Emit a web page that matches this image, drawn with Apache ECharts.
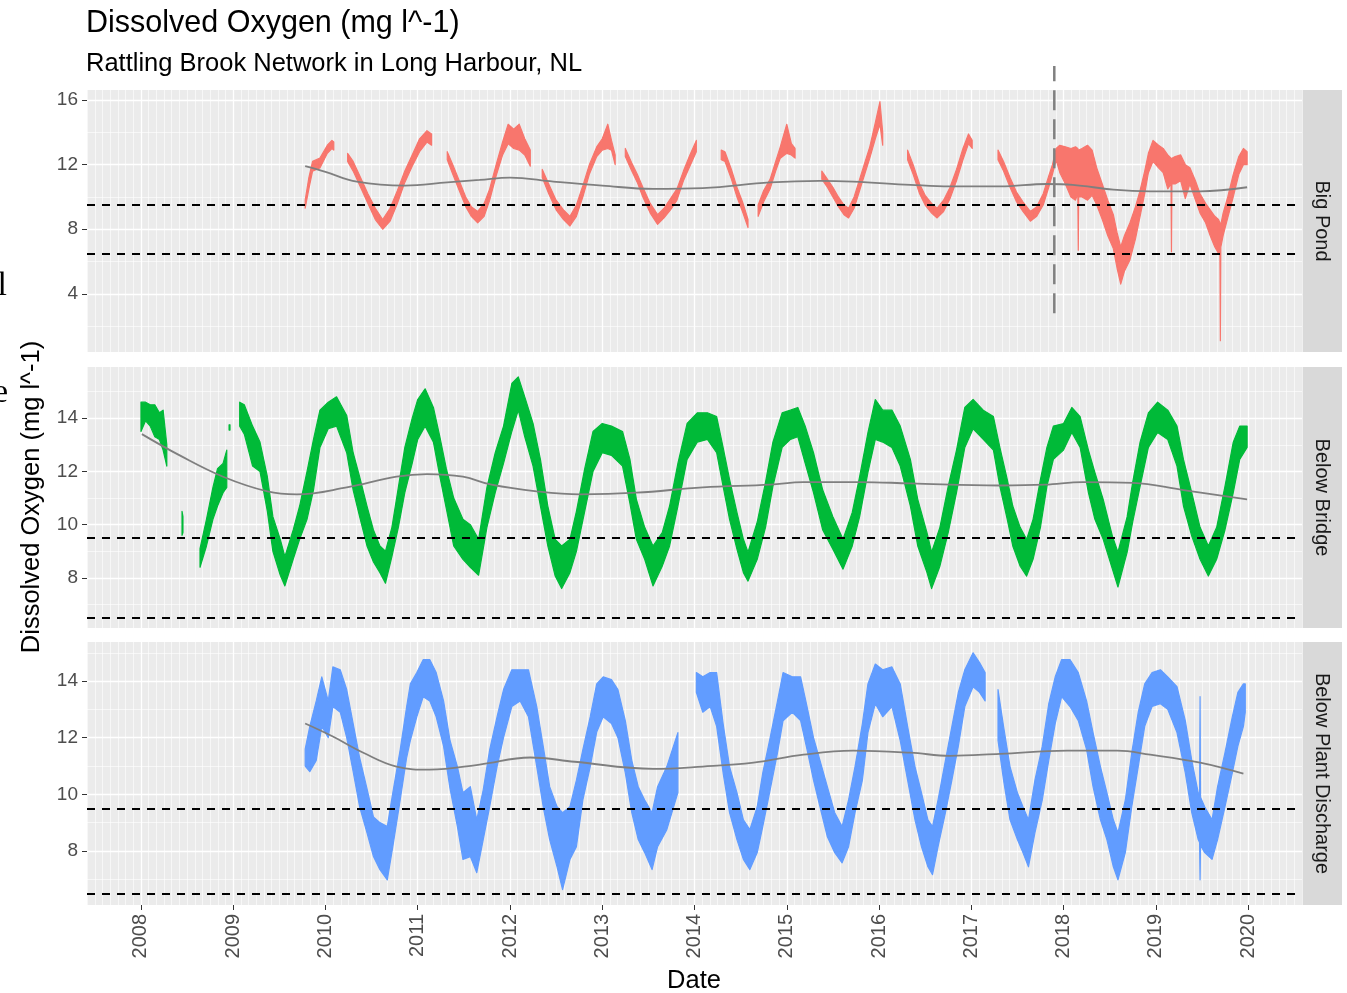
<!DOCTYPE html>
<html>
<head>
<meta charset="utf-8">
<title>Dissolved Oxygen</title>
<script src="https://cdn.jsdelivr.net/npm/echarts@6/dist/echarts.min.js"></script>
<style>
  html, body { margin: 0; padding: 0; background: #fff; }
  #chart { width: 1347px; height: 993px; }
</style>
</head>
<body>
<div id="chart"></div>
<script>
// each point: [decimal year, lower edge of trace, upper edge of trace]; null = gap in record
const bigPond = [
  [2009.78, 9.3, 9.8], [2009.82, 10.5, 11.2], [2009.86, 11.6, 12.2], [2009.94, 11.8, 12.4],
  [2010.02, 12.7, 13.2], [2010.07, 13.0, 13.5], [2010.09, 12.9, 13.4], [2010.16, null, null],
  [2010.24, 12.2, 12.7], [2010.30, 11.6, 12.2], [2010.38, 10.6, 11.2], [2010.46, 9.6, 10.2],
  [2010.54, 8.6, 9.3], [2010.62, 8.0, 8.6], [2010.70, 8.5, 9.3], [2010.78, 9.6, 10.4],
  [2010.86, 10.9, 11.6], [2010.94, 11.9, 12.6], [2011.02, 12.8, 13.6], [2011.10, 13.4, 14.1],
  [2011.15, 13.2, 13.9], [2011.24, null, null],
  [2011.32, 12.3, 12.8], [2011.38, 11.4, 12.0], [2011.45, 10.4, 11.0], [2011.52, 9.4, 10.0],
  [2011.58, 8.8, 9.4], [2011.65, 8.4, 9.1], [2011.72, 8.8, 9.6], [2011.78, 9.8, 10.5],
  [2011.85, 11.3, 12.0], [2011.92, 12.6, 13.4], [2011.98, 13.3, 14.5], [2012.04, 13.0, 14.2],
  [2012.10, 12.9, 14.5], [2012.16, 12.6, 13.6], [2012.22, 11.9, 12.9], [2012.29, null, null],
  [2012.35, 11.2, 11.7], [2012.42, 10.2, 10.8], [2012.50, 9.2, 9.8], [2012.58, 8.6, 9.2],
  [2012.65, 8.2, 8.8], [2012.72, 8.8, 9.5], [2012.79, 10.0, 10.7], [2012.86, 11.4, 12.0],
  [2012.94, 12.5, 13.1], [2013.00, 12.9, 13.6], [2013.06, 13.0, 14.5], [2013.10, 12.9, 13.5],
  [2013.14, 12.0, 12.6], [2013.20, null, null],
  [2013.25, 12.5, 13.0], [2013.32, 11.6, 12.1], [2013.38, 10.9, 11.4], [2013.44, 10.0, 10.6],
  [2013.52, 9.0, 9.6], [2013.60, 8.3, 8.9], [2013.67, 8.7, 9.3], [2013.74, 9.2, 9.9],
  [2013.81, 9.8, 10.5], [2013.88, 11.0, 11.6], [2013.95, 11.9, 12.6], [2014.02, 12.8, 13.5],
  [2014.15, null, null],
  [2014.29, 12.3, 12.9], [2014.33, 12.2, 12.8], [2014.40, 11.1, 11.7], [2014.46, 10.0, 10.6],
  [2014.52, 9.1, 9.7], [2014.58, 8.1, 8.6], [2014.64, null, null],
  [2014.69, 8.8, 9.5], [2014.75, 9.7, 10.4], [2014.82, 10.5, 11.1], [2014.88, 11.6, 12.2],
  [2014.93, 12.4, 13.1], [2015.00, 12.7, 14.5], [2015.05, 12.6, 13.3], [2015.09, 12.4, 13.0],
  [2015.20, null, null],
  [2015.38, 11.1, 11.6], [2015.44, 10.6, 11.1], [2015.50, 10.0, 10.6], [2015.56, 9.4, 10.0],
  [2015.62, 8.9, 9.5], [2015.67, 8.7, 9.3], [2015.73, 9.3, 10.0], [2015.79, 10.4, 11.1],
  [2015.85, 11.5, 12.2], [2015.90, 12.4, 13.1], [2015.96, 13.6, 14.6], [2016.01, 14.5, 15.9],
  [2016.04, 13.2, 14.0], [2016.15, null, null],
  [2016.31, 12.3, 12.9], [2016.37, 11.4, 12.0], [2016.44, 10.2, 10.8], [2016.50, 9.5, 10.1],
  [2016.57, 9.0, 9.6], [2016.63, 8.7, 9.3], [2016.70, 9.1, 9.8], [2016.77, 9.9, 10.6],
  [2016.84, 11.0, 11.7], [2016.91, 12.3, 13.0], [2016.97, 13.3, 13.9], [2017.01, 13.0, 13.5],
  [2017.10, null, null],
  [2017.29, 12.3, 12.9], [2017.35, 11.6, 12.2], [2017.42, 10.6, 11.2], [2017.49, 9.7, 10.3],
  [2017.56, 9.1, 9.7], [2017.64, 8.5, 9.1], [2017.71, 8.8, 9.4], [2017.78, 9.5, 10.2],
  [2017.84, 10.6, 11.3], [2017.88, 11.4, 12.0], [2017.92, 12.3, 13.0], [2017.96, 11.5, 13.2],
  [2018.02, 10.8, 13.1], [2018.08, 10.0, 13.0], [2018.13, 9.8, 13.1], [2018.155, 10.2, 13.0],
  [2018.16, 6.7, 12.9], [2018.165, 10.0, 12.9], [2018.20, 10.0, 13.0], [2018.26, 9.8, 13.2],
  [2018.31, 10.1, 12.9], [2018.36, 9.5, 11.8], [2018.42, 8.6, 10.8], [2018.48, 7.6, 9.8],
  [2018.54, 6.8, 8.9], [2018.58, 5.6, 7.8], [2018.62, 4.6, 6.9], [2018.66, 5.4, 7.6],
  [2018.72, 6.1, 8.4], [2018.78, 7.4, 9.4], [2018.83, 8.8, 10.4], [2018.88, 10.2, 11.6],
  [2018.92, 11.5, 12.7], [2018.97, 12.2, 13.5], [2019.03, 11.8, 13.2], [2019.08, 11.5, 13.0],
  [2019.13, 10.5, 12.6], [2019.165, 10.8, 12.4], [2019.17, 6.6, 12.3], [2019.175, 10.8, 12.4],
  [2019.21, 10.8, 12.5], [2019.27, 11.0, 12.6], [2019.32, 9.9, 12.0], [2019.37, 10.8, 11.8],
  [2019.43, 9.8, 11.0], [2019.48, 9.0, 10.2], [2019.54, 8.4, 9.6], [2019.59, 7.6, 9.2],
  [2019.64, 6.9, 8.8], [2019.68, 6.5, 8.6], [2019.695, 6.6, 8.4], [2019.70, 1.1, 8.2],
  [2019.705, 6.9, 8.3], [2019.73, 7.6, 9.0], [2019.78, 8.7, 10.0], [2019.84, 10.0, 11.4],
  [2019.90, 11.4, 12.5], [2019.95, 12.0, 13.0], [2019.99, 12.0, 12.8]
];

const belowBridge = [
  [2008.00, 13.5, 14.6], [2008.05, 13.9, 14.6], [2008.10, 13.7, 14.5], [2008.15, 13.3, 14.5],
  [2008.20, 13.2, 14.2], [2008.24, 12.8, 14.3], [2008.28, 12.2, 13.0], [2008.35, null, null],
  [2008.445, 9.6, 10.5], [2008.455, 9.7, 10.3], [2008.50, null, null],
  [2008.64, 8.4, 9.1], [2008.71, 9.2, 10.2], [2008.78, 10.2, 11.4], [2008.83, 10.7, 12.1],
  [2008.89, 11.2, 12.3], [2008.93, 11.4, 12.8], [2008.945, null, null],
  [2008.955, 13.55, 13.75], [2008.965, 13.55, 13.75], [2009.00, null, null],
  [2009.07, 13.7, 14.6], [2009.12, 13.4, 14.5], [2009.21, 12.2, 13.7], [2009.29, 12.0, 13.1],
  [2009.37, 10.5, 11.8], [2009.43, 9.0, 10.3], [2009.51, 8.1, 9.45], [2009.56, 7.7, 8.8],
  [2009.65, 8.7, 9.8], [2009.72, 9.45, 10.7], [2009.80, 10.2, 12.0], [2009.87, 11.3, 13.2],
  [2009.94, 12.9, 14.3], [2010.03, 13.6, 14.6], [2010.12, 13.7, 14.8], [2010.23, 12.7, 14.1],
  [2010.30, 11.3, 12.7], [2010.37, 10.3, 11.8], [2010.45, 9.2, 10.7], [2010.52, 8.6, 9.8],
  [2010.59, 8.2, 9.2], [2010.65, 7.8, 9.0], [2010.72, 8.8, 9.9], [2010.79, 9.9, 11.4],
  [2010.86, 11.2, 12.9], [2010.94, 12.3, 14.0], [2011.00, 13.2, 14.7], [2011.08, 13.7, 15.1],
  [2011.17, 13.1, 14.4], [2011.24, 11.8, 13.3], [2011.31, 10.6, 12.1], [2011.39, 9.2, 11.0],
  [2011.49, 8.7, 10.2], [2011.57, 8.4, 10.0], [2011.66, 8.1, 9.45], [2011.75, 9.9, 11.4],
  [2011.84, 11.2, 12.7], [2011.93, 12.3, 13.7], [2012.02, 13.5, 15.3], [2012.09, 14.3, 15.55],
  [2012.16, 13.3, 14.8], [2012.25, 12.2, 13.8], [2012.33, 10.7, 12.45], [2012.41, 9.2, 10.7],
  [2012.49, 8.07, 9.45], [2012.56, 7.6, 9.2], [2012.65, 8.2, 9.45], [2012.72, 9.0, 10.5],
  [2012.81, 10.5, 12.1], [2012.90, 12.0, 13.5], [2013.00, 12.7, 13.8], [2013.10, 12.6, 13.7],
  [2013.22, 12.2, 13.5], [2013.30, 10.8, 12.45], [2013.37, 9.45, 10.95], [2013.46, 8.7, 9.9],
  [2013.55, 7.7, 9.2], [2013.65, 8.44, 9.7], [2013.73, 9.2, 10.7], [2013.82, 10.7, 12.3],
  [2013.92, 12.45, 13.8], [2014.03, 13.1, 14.2], [2014.14, 13.2, 14.2], [2014.24, 12.7, 14.06],
  [2014.31, 11.44, 12.9], [2014.38, 10.2, 11.7], [2014.46, 9.08, 10.46], [2014.53, 8.2, 9.45],
  [2014.58, 7.88, 8.97], [2014.68, 8.7, 10.1], [2014.77, 9.9, 11.6], [2014.85, 11.44, 13.1],
  [2014.95, 12.9, 14.2], [2015.04, 13.2, 14.3], [2015.12, 13.3, 14.4], [2015.20, 12.3, 13.7],
  [2015.29, 11.2, 12.7], [2015.39, 9.8, 11.3], [2015.50, 9.08, 10.3], [2015.61, 8.33, 9.45],
  [2015.71, 9.2, 10.46], [2015.79, 10.3, 11.8], [2015.88, 11.96, 13.46], [2015.96, 13.2, 14.7],
  [2016.04, 13.1, 14.3], [2016.14, 12.9, 14.3], [2016.23, 12.2, 13.7], [2016.34, 10.7, 12.45],
  [2016.42, 9.2, 10.95], [2016.52, 8.2, 9.7], [2016.57, 7.6, 8.97], [2016.66, 8.44, 9.9],
  [2016.75, 9.7, 11.44], [2016.84, 11.2, 12.8], [2016.93, 12.9, 14.4], [2017.02, 13.6, 14.7],
  [2017.13, 13.2, 14.3], [2017.24, 12.8, 14.06], [2017.31, 11.44, 12.9], [2017.39, 10.2, 11.7],
  [2017.45, 9.2, 10.7], [2017.53, 8.44, 9.9], [2017.60, 8.07, 9.45], [2017.67, 8.7, 10.2],
  [2017.75, 9.9, 11.7], [2017.82, 11.44, 12.9], [2017.89, 12.45, 13.7], [2018.00, 12.8, 13.8],
  [2018.09, 13.46, 14.4], [2018.18, 12.9, 14.06], [2018.27, 11.2, 12.8], [2018.34, 10.2, 11.96],
  [2018.43, 9.45, 10.95], [2018.53, 8.33, 9.57], [2018.59, 7.66, 8.97], [2018.69, 8.97, 10.3],
  [2018.75, 10.1, 11.6], [2018.83, 11.44, 13.1], [2018.92, 12.9, 14.2], [2019.02, 13.46, 14.6],
  [2019.13, 13.2, 14.3], [2019.23, 12.2, 13.7], [2019.30, 10.7, 12.45], [2019.39, 9.57, 11.2],
  [2019.48, 8.7, 9.9], [2019.57, 8.07, 9.2], [2019.66, 8.7, 9.9], [2019.75, 9.8, 11.44],
  [2019.84, 11.2, 13.1], [2019.91, 12.45, 13.7], [2019.99, 12.9, 13.7]
];

const belowPlant = [
  [2009.78, 11.0, 11.6], [2009.83, 10.8, 12.4], [2009.90, 11.2, 13.3], [2009.96, 12.4, 14.15],
  [2010.03, 12.0, 13.3], [2010.08, 13.1, 14.5], [2010.16, 12.9, 14.4], [2010.23, 12.0, 13.7],
  [2010.30, 10.8, 12.5], [2010.37, 9.56, 11.3], [2010.45, 8.64, 10.2], [2010.52, 7.8, 9.2],
  [2010.59, 7.34, 9.0], [2010.67, 6.98, 8.86], [2010.73, 8.15, 10.06], [2010.81, 9.8, 11.58],
  [2010.88, 11.3, 13.1], [2010.92, 11.9, 13.9], [2010.99, 12.74, 14.3], [2011.06, 13.45, 14.76],
  [2011.13, 13.3, 14.76], [2011.20, 12.74, 14.3], [2011.28, 11.7, 13.3], [2011.35, 10.2, 11.9],
  [2011.43, 8.86, 10.98], [2011.49, 7.7, 10.06], [2011.57, 7.8, 10.27], [2011.64, 7.23, 9.1],
  [2011.71, 8.4, 10.16], [2011.78, 9.56, 11.58], [2011.86, 10.98, 12.74], [2011.93, 12.0, 13.7],
  [2012.02, 13.1, 14.4], [2012.11, 13.3, 14.4], [2012.20, 12.74, 14.4], [2012.29, 10.98, 13.1],
  [2012.36, 9.56, 11.7], [2012.43, 8.4, 10.27], [2012.51, 7.44, 9.56], [2012.57, 6.63, 9.35],
  [2012.65, 7.7, 9.56], [2012.72, 8.15, 10.5], [2012.79, 9.8, 11.58], [2012.87, 10.98, 12.74],
  [2012.94, 12.2, 13.9], [2013.01, 12.74, 14.15], [2013.10, 12.5, 14.05], [2013.17, 12.0, 13.7],
  [2013.25, 10.76, 12.6], [2013.32, 9.35, 11.2], [2013.39, 8.4, 10.27], [2013.46, 7.94, 9.8],
  [2013.54, 7.34, 9.35], [2013.60, 8.15, 10.27], [2013.70, 8.75, 10.98], [2013.82, 10.06, 12.18],
  [2013.90, null, null],
  [2014.02, 13.6, 14.3], [2014.09, 12.9, 14.15], [2014.17, 13.1, 14.3], [2014.24, 12.4, 14.3],
  [2014.31, 10.76, 12.5], [2014.38, 9.35, 10.98], [2014.46, 8.4, 10.06], [2014.53, 7.7, 9.1],
  [2014.60, 7.34, 8.75], [2014.68, 7.94, 9.56], [2014.74, 8.86, 10.76], [2014.82, 10.16, 12.0],
  [2014.90, 11.47, 13.3], [2014.96, 12.6, 14.3], [2015.06, 12.9, 14.15], [2015.15, 12.6, 14.15],
  [2015.22, 11.58, 13.1], [2015.29, 10.5, 12.0], [2015.36, 9.56, 11.2], [2015.44, 8.5, 10.27],
  [2015.52, 7.94, 9.35], [2015.60, 7.58, 8.86], [2015.67, 8.15, 9.8], [2015.74, 9.35, 10.98],
  [2015.82, 10.5, 12.5], [2015.88, 12.18, 13.9], [2015.96, 13.2, 14.6], [2016.04, 12.74, 14.4],
  [2016.14, 13.1, 14.5], [2016.23, 11.9, 13.9], [2016.31, 10.5, 12.4], [2016.39, 9.1, 10.98],
  [2016.46, 8.15, 10.06], [2016.53, 7.44, 9.1], [2016.58, 7.16, 8.86], [2016.64, 8.15, 9.8],
  [2016.72, 9.35, 11.2], [2016.79, 10.5, 12.4], [2016.86, 11.7, 13.6], [2016.93, 13.1, 14.4],
  [2017.02, 13.8, 15.0], [2017.09, 13.6, 14.65], [2017.15, 13.3, 14.3], [2017.22, null, null],
  [2017.29, 11.9, 13.7], [2017.35, 10.5, 12.4], [2017.42, 9.1, 10.98], [2017.50, 8.4, 10.06],
  [2017.56, 7.94, 9.56], [2017.62, 7.44, 9.1], [2017.69, 8.64, 10.5], [2017.77, 9.8, 11.7],
  [2017.84, 11.2, 13.2], [2017.91, 12.5, 14.15], [2017.98, 13.45, 14.76], [2018.07, 13.1, 14.76],
  [2018.16, 12.6, 14.3], [2018.25, 11.58, 13.3], [2018.32, 10.27, 12.18], [2018.40, 9.1, 10.98],
  [2018.47, 8.4, 10.06], [2018.54, 7.44, 9.1], [2018.59, 6.98, 8.64], [2018.67, 7.94, 9.8],
  [2018.74, 9.56, 11.47], [2018.81, 10.98, 12.9], [2018.88, 12.4, 13.9], [2018.96, 13.1, 14.3],
  [2019.05, 13.2, 14.4], [2019.13, 13.0, 14.15], [2019.23, 12.18, 13.8], [2019.32, 10.76, 12.6],
  [2019.39, 9.35, 11.2], [2019.46, 8.4, 10.06], [2019.475, 8.3, 10.0], [2019.48, 6.98, 13.45],
  [2019.485, 8.2, 9.9], [2019.53, 7.94, 9.56], [2019.61, 7.7, 9.1], [2019.67, 8.4, 10.27],
  [2019.75, 9.56, 11.47], [2019.83, 10.76, 12.74], [2019.89, 11.7, 13.6], [2019.95, 12.4, 13.9],
  [2019.97, 12.9, 13.9]
];

// loess trend lines
const bigPondTrend = [
  [2009.78, 11.9], [2010.0, 11.55], [2010.34, 10.95], [2010.86, 10.7], [2011.32, 10.9],
  [2011.67, 11.05], [2012.0, 11.2], [2012.47, 10.95], [2013.0, 10.7], [2013.55, 10.5],
  [2014.09, 10.55], [2014.82, 10.9], [2015.36, 11.0], [2015.72, 10.95], [2016.34, 10.75],
  [2016.77, 10.65], [2017.31, 10.65], [2017.82, 10.8], [2018.1, 10.75], [2018.54, 10.45],
  [2018.94, 10.35], [2019.48, 10.35], [2019.99, 10.6]
];
const belowBridgeTrend = [
  [2008.01, 13.4], [2008.42, 12.6], [2008.89, 11.8], [2009.37, 11.25], [2009.69, 11.14],
  [2010.23, 11.4], [2010.77, 11.8], [2011.1, 11.9], [2011.49, 11.8], [2011.8, 11.5],
  [2012.29, 11.25], [2012.76, 11.14], [2013.37, 11.2], [2014.09, 11.4], [2014.82, 11.5],
  [2015.18, 11.6], [2015.8, 11.6], [2016.34, 11.55], [2017.31, 11.47], [2017.8, 11.5],
  [2018.21, 11.6], [2018.75, 11.57], [2019.3, 11.3], [2019.99, 10.95]
];
const belowPlantTrend = [
  [2009.78, 12.5], [2010.08, 12.04], [2010.41, 11.47], [2010.77, 10.98], [2011.13, 10.87],
  [2011.67, 11.05], [2012.22, 11.3], [2012.7, 11.15], [2013.55, 10.9], [2014.09, 10.98],
  [2014.64, 11.12], [2015.18, 11.4], [2015.72, 11.54], [2016.34, 11.47], [2016.77, 11.36],
  [2017.31, 11.43], [2018.04, 11.54], [2018.58, 11.54], [2018.94, 11.4], [2019.48, 11.12],
  [2019.95, 10.73]
];

const thresholds = [9.5, 6.5];
const changeDate = 2017.9;          // vertical marker in Big Pond panel
const changeSpan = [2.8, 18.1];

const siteNames = ['Big Pond', 'Below Bridge', 'Below Plant Discharge'];
const yearTicks = [2008, 2009, 2010, 2011, 2012, 2013, 2014, 2015, 2016, 2017, 2018, 2019, 2020];
const yMajor = [[4, 8, 12, 16], [8, 10, 12, 14], [8, 10, 12, 14]];
const yMinor = [[2, 6, 10, 14], [7, 9, 11, 13, 15], [7, 9, 11, 13, 15]];
const yRange = [[0.4, 16.62], [6.12, 15.92], [6.09, 15.38]];
const xRange = [2007.415, 2020.585];

const colors = ['#F8766D', '#00BA38', '#619CFF'];
const FONT = '"Liberation Sans", Arial, Helvetica, sans-serif';

const panels = [
  { top: 90, height: 262 },
  { top: 367, height: 261 },
  { top: 642, height: 263 }
];
const PLOT_LEFT = 87, PLOT_W = 1215, STRIP_W = 40;

// monthly minor grid positions
const monthTicks = [];
for (let y = 2007; y <= 2020; y++) {
  for (let m = 0; m < 12; m++) {
    const v = y + m / 12;
    if (v > xRange[0] && v < xRange[1]) monthTicks.push(v);
  }
}

const chart = echarts.init(document.getElementById('chart'));

const grid = panels.map(p => ({
  left: PLOT_LEFT, top: p.top, width: PLOT_W, height: p.height,
  show: true, backgroundColor: '#EBEBEB', borderWidth: 0
}));

const xAxis = [];
const yAxis = [];
panels.forEach((p, gi) => {
  const last = gi === 2;
  xAxis[gi] = {
    type: 'value', gridIndex: gi, min: xRange[0], max: xRange[1],
    axisLine: { show: false },
    axisTick: { show: last, customValues: yearTicks, length: 5, lineStyle: { color: '#333333', width: 1 } },
    axisLabel: {
      show: last, customValues: yearTicks, rotate: 90, margin: 9,
      fontSize: 20, color: '#4D4D4D', fontFamily: FONT,
      formatter: v => String(v)
    },
    splitLine: { show: true, lineStyle: { color: '#FFFFFF', width: 1.3 } }
  };
  xAxis[gi + 3] = {
    type: 'value', gridIndex: gi, min: xRange[0], max: xRange[1],
    axisLine: { show: false },
    axisTick: { show: false, customValues: monthTicks },
    axisLabel: { show: false, customValues: monthTicks },
    splitLine: { show: true, lineStyle: { color: '#FFFFFF', width: 0.6 } }
  };
  yAxis[gi] = {
    type: 'value', gridIndex: gi, min: yRange[gi][0], max: yRange[gi][1],
    axisLine: { show: false },
    axisTick: { show: true, customValues: yMajor[gi], length: 5, lineStyle: { color: '#333333', width: 1 } },
    axisLabel: {
      customValues: yMajor[gi], margin: 9,
      fontSize: 19, color: '#4D4D4D', fontFamily: FONT
    },
    splitLine: { show: true, lineStyle: { color: '#FFFFFF', width: 1.3 } }
  };
  yAxis[gi + 3] = {
    type: 'value', gridIndex: gi, min: yRange[gi][0], max: yRange[gi][1],
    axisLine: { show: false },
    axisTick: { show: false, customValues: yMinor[gi] },
    axisLabel: { show: false, customValues: yMinor[gi] },
    splitLine: { show: true, lineStyle: { color: '#FFFFFF', width: 0.6 } }
  };
});

// split a record into contiguous runs at the gaps
function runsOf(pts) {
  const runs = [];
  let cur = [];
  pts.forEach(p => {
    if (p[1] == null) { if (cur.length) runs.push(cur); cur = []; }
    else cur.push(p);
  });
  if (cur.length) runs.push(cur);
  return runs;
}

// filled band between lower and upper trace edges, one polygon per run
function bandSeries(gi, pts, color) {
  const runs = runsOf(pts);
  return {
    type: 'custom', xAxisIndex: gi, yAxisIndex: gi, z: 2, silent: true,
    data: runs.map((r, i) => [r[0][0], r[0][1], i]),
    encode: { x: 0, y: 1 },
    renderItem: function (params, api) {
      const run = runs[api.value(2)];
      const upper = run.map(p => api.coord([p[0], p[2]]));
      const lower = run.slice().reverse().map(p => api.coord([p[0], p[1]]));
      return {
        type: 'polygon',
        shape: { points: upper.concat(lower) },
        style: { fill: color, stroke: color, lineWidth: 1.2, lineJoin: 'round' }
      };
    }
  };
}

function trendSeries(gi, pts) {
  return {
    type: 'line', xAxisIndex: gi, yAxisIndex: gi, data: pts,
    smooth: 0.4, symbol: 'none', silent: true, z: 4,
    lineStyle: { color: '#7F7F7F', width: 1.8 },
    markLine: {
      silent: true, symbol: 'none', label: { show: false },
      lineStyle: { color: '#000000', type: [8, 7], width: 1.8 },
      emphasis: { disabled: true },
      data: thresholds.map(v => ({ yAxis: v }))
    }
  };
}

const siteData = [bigPond, belowBridge, belowPlant];
const siteTrend = [bigPondTrend, belowBridgeTrend, belowPlantTrend];

const series = [];
siteData.forEach((pts, gi) => {
  series.push(bandSeries(gi, pts, colors[gi]));
  series.push(trendSeries(gi, siteTrend[gi]));
});
series.push({
  type: 'line', xAxisIndex: 0, yAxisIndex: 0, clip: false,
  data: [[changeDate, changeSpan[0]], [changeDate, changeSpan[1]]],
  symbol: 'none', silent: true, z: 6,
  lineStyle: { color: '#808080', width: 2.5, type: [20, 9] }
});

const graphic = [];
panels.forEach((p, gi) => {
  graphic.push({
    type: 'rect', silent: true,
    shape: { x: PLOT_LEFT + PLOT_W, y: p.top, width: STRIP_W, height: p.height },
    style: { fill: '#D9D9D9' }
  });
  graphic.push({
    type: 'text', silent: true,
    x: PLOT_LEFT + PLOT_W + STRIP_W / 2, y: p.top + p.height / 2,
    rotation: -Math.PI / 2,
    style: {
      text: siteNames[gi], fill: '#1A1A1A', font: '20px ' + FONT,
      textAlign: 'center', textVerticalAlign: 'middle'
    }
  });
});
graphic.push({
  type: 'text', silent: true, x: 32, y: 497, rotation: Math.PI / 2,
  style: {
    text: 'Dissolved Oxygen (mg l^-1)', fill: '#000000', font: '25.5px ' + FONT,
    textAlign: 'center', textVerticalAlign: 'middle'
  }
});
graphic.push({
  type: 'text', silent: true, x: 694, y: 981,
  style: {
    text: 'Date', fill: '#000000', font: '25.5px ' + FONT,
    textAlign: 'center', textVerticalAlign: 'middle'
  }
});
// fragments of neighbouring page text cut at the left edge
graphic.push({
  type: 'text', silent: true, x: 7, y: 286,
  style: { text: 'l', fill: '#000000', font: '34px "Liberation Serif", serif', textAlign: 'right', textVerticalAlign: 'middle' }
});
graphic.push({
  type: 'text', silent: true, x: 8, y: 393,
  style: { text: 'e', fill: '#000000', font: '34px "Liberation Serif", serif', textAlign: 'right', textVerticalAlign: 'middle' }
});

chart.setOption({
  animation: false,
  backgroundColor: '#FFFFFF',
  title: [
    {
      text: 'Dissolved Oxygen (mg l^-1)', left: 86, top: 8, padding: 0,
      textStyle: { fontSize: 30.5, fontWeight: 'normal', color: '#000000', fontFamily: FONT }
    },
    {
      text: 'Rattling Brook Network in Long Harbour, NL', left: 86, top: 51, padding: 0,
      textStyle: { fontSize: 25.5, fontWeight: 'normal', color: '#000000', fontFamily: FONT }
    }
  ],
  grid: grid,
  xAxis: xAxis,
  yAxis: yAxis,
  series: series,
  graphic: graphic
});
</script>
</body>
</html>
